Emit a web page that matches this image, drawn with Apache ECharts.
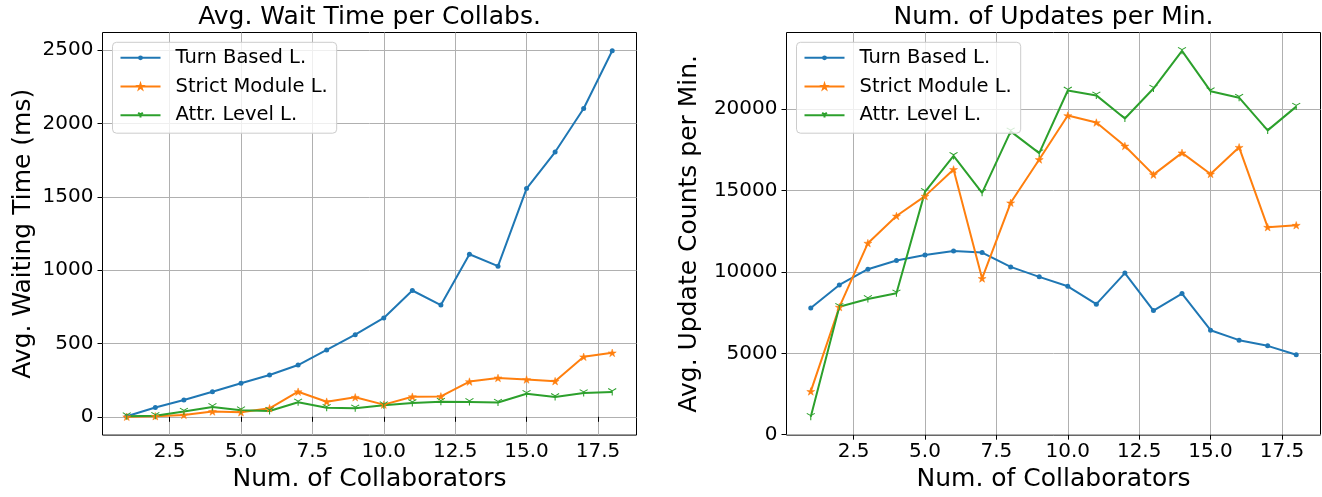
<!DOCTYPE html>
<html><head><meta charset="utf-8">
<script src="https://cdn.jsdelivr.net/npm/echarts@6/dist/echarts.min.js"></script>
<style>html,body{margin:0;padding:0;background:#fff}#c{width:1322px;height:497px}</style>
</head><body><div id="c"></div>
<script>
// ---- data ----
const collaborators = [1,2,3,4,5,6,7,8,9,10,11,12,13,14,15,16,17,18];
const seriesNames = ['Turn Based L.', 'Strict Module L.', 'Attr. Level L.'];
const waitTurn   = [4,63,115,171,229,285,353,456,560,674,861,762,1108,1027,1556,1805,2102,2495];
const waitStrict = [0,4,13,36,31,58,171,103,133,83,137,139,240,265,254,243,409,436];
const waitAttr   = [4,7,36,67,45,40,99,61,58,79,94,103,101,97,157,135,162,169];
const updTurn    = [7780,9200,10170,10700,11040,11290,11190,10310,9700,9120,8020,9930,7630,8670,6420,5810,5460,4910];
const updStrict  = [2660,7840,11770,13440,14660,16300,9600,14250,16910,19610,19180,17740,15980,17320,16020,17660,12750,12870];
const updAttr    = [1100,7860,8340,8690,14920,17130,14860,18640,17300,21150,20850,19430,21270,23590,21110,20710,18700,20160];
const xTicks     = [2.5,5,7.5,10,12.5,15,17.5];
const waitTicks  = [0,500,1000,1500,2000,2500];
const updTicks   = [0,5000,10000,15000,20000];
const titles     = ['Avg. Wait Time per Collabs.', 'Num. of Updates per Min.'];
const xName      = 'Num. of Collaborators';
const yNames     = ['Avg. Waiting Time (ms)', 'Avg. Update Counts per Min.'];

// ---- styling ----
const FONT = 'DejaVu Sans';
const colors = ['#1f77b4', '#ff7f0e', '#2ca02c'];
const STAR = 'path://M50,0 L61.23,34.55 L97.55,34.55 L68.16,55.9 L79.39,90.45 L50,69.1 L20.61,90.45 L31.84,55.9 L2.45,34.55 L38.77,34.55 Z';
const TRI = 'path://M10,10 L10,20 M10,10 L1.34,5 M10,10 L18.66,5';
const symbols = [
  {symbol: 'circle', symbolSize: 5, itemStyle: {color: colors[0], borderWidth: 0}},
  {symbol: STAR, symbolSize: [8, 7.6], itemStyle: {color: colors[1], borderColor: colors[1], borderWidth: 0.5}},
  {symbol: TRI, symbolSize: [8, 7], itemStyle: {color: colors[2], borderColor: colors[2], borderWidth: 1}}
];

function range(arrs) {
  const all = [].concat(...arrs);
  const mn = Math.min(...all), mx = Math.max(...all);
  const m = (mx - mn) * 0.05;
  return [mn - m, mx + m];
}
const xr = range([collaborators]);
const wr = range([waitTurn, waitStrict, waitAttr]);
const ur = range([updTurn, updStrict, updAttr]);

const grids = [
  {left: 102.5, top: 32.5, width: 534, height: 406.5},
  {left: 786.5, top: 32.5, width: 534, height: 406.5}
];

function xAxis(i) {
  return {
    type: 'value', gridIndex: i, min: xr[0], max: xr[1],
    name: xName, nameLocation: 'middle', nameGap: 31,
    nameTextStyle: {fontFamily: FONT, fontSize: 25, color: '#000'},
    axisLine: {show: false},
    axisTick: {show: true, length: 5, customValues: xTicks, lineStyle: {color: '#000', width: 1}},
    axisLabel: {customValues: xTicks, margin: 7, fontFamily: FONT, fontSize: 20, color: '#000',
      formatter: v => Number(v).toFixed(1)},
    splitLine: {show: true, lineStyle: {color: '#b0b0b0', width: 1}}
  };
}
function yAxis(i, r, ticks, gap) {
  return {
    type: 'value', gridIndex: i, min: r[0], max: r[1],
    name: yNames[i], nameLocation: 'middle', nameRotate: 90, nameGap: gap,
    nameTextStyle: {fontFamily: FONT, fontSize: 25, color: '#000'},
    axisLine: {show: false},
    axisTick: {show: true, length: 5, customValues: ticks, lineStyle: {color: '#000', width: 1}},
    axisLabel: {customValues: ticks, margin: 9, fontFamily: FONT, fontSize: 20, color: '#000',
      formatter: v => String(Math.round(v))},
    splitLine: {show: true, lineStyle: {color: '#b0b0b0', width: 1}}
  };
}
function mk(i, name, vals, k) {
  return Object.assign({
    type: 'line', name: name, xAxisIndex: i, yAxisIndex: i,
    data: collaborators.map((x, j) => [x, vals[j]]),
    lineStyle: {color: colors[k], width: 2},
    color: colors[k],
    showAllSymbol: true, animation: false, z: 3
  }, symbols[k]);
}
function legend(i) {
  return {
    orient: 'vertical', left: grids[i].left + 10, top: 42.3,
    padding: [5.5, 9, 8, 7], itemGap: 8.7, itemWidth: 40, itemHeight: 6,
    backgroundColor: 'rgba(255,255,255,0.8)', borderColor: '#cccccc', borderWidth: 1, borderRadius: 4,
    textStyle: {fontFamily: FONT, fontSize: 19.5, color: '#000', padding: [0, 0, 0, 10]},
    data: seriesNames.map(n => ({name: n}))
  };
}

const chart = echarts.init(document.getElementById('c'), null, {renderer: 'canvas'});
chart.setOption({
  animation: false,
  backgroundColor: '#fff',
  title: titles.map((t, i) => ({
    text: t, left: grids[i].left + grids[i].width / 2, top: 5.4, padding: 0, textAlign: 'center',
    textStyle: {fontFamily: FONT, fontSize: 25, fontWeight: 'normal', color: '#000'}
  })),
  grid: grids.map(g => Object.assign({show: true, borderColor: '#000', borderWidth: 1, backgroundColor: 'transparent', containLabel: false}, g)),
  xAxis: [xAxis(0), xAxis(1)],
  yAxis: [yAxis(0, wr, waitTicks, 67), yAxis(1, ur, updTicks, 85)],
  legend: [legend(0), legend(1)],
  series: [
    mk(0, seriesNames[0], waitTurn, 0),
    mk(0, seriesNames[1], waitStrict, 1),
    mk(0, seriesNames[2], waitAttr, 2),
    mk(1, seriesNames[0], updTurn, 0),
    mk(1, seriesNames[1], updStrict, 1),
    mk(1, seriesNames[2], updAttr, 2)
  ]
});
</script></body></html>
